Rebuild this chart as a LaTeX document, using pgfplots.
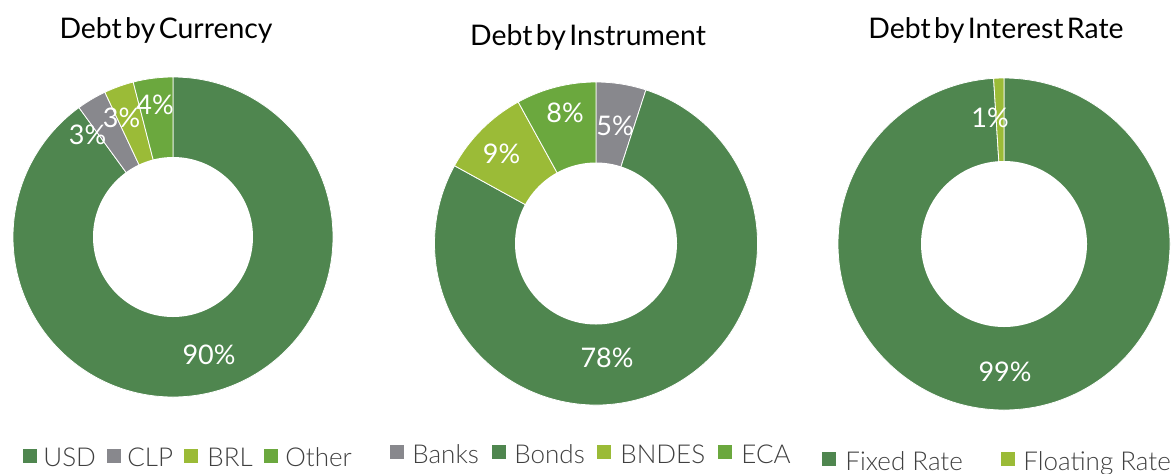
\documentclass[border=0pt]{standalone}
\usepackage{pgfplots}
\pgfplotsset{compat=1.18}
\usepackage{fontspec}
\setmainfont{Lato}
\newfontfamily\latolight{Lato}[UprightFont=* Light]
\definecolor{cDark}{RGB}{79,134,79}
\definecolor{cGrey}{RGB}{136,136,141}
\definecolor{cLight}{RGB}{155,187,55}
\definecolor{cMid}{RGB}{107,168,62}
\definecolor{cLeg}{RGB}{64,64,64}
\newcommand\tw[1]{\begingroup\spaceskip=0.12em\relax #1\endgroup}
% donut: cx, cy (axis units), outer radius, inner radius, list value/colour (clockwise from 12 o'clock)
\newcommand\donut[5]{%
  \gdef\curang{90}%
  \foreach \v/\c in {#5}{%
    \pgfmathsetmacro\endang{\curang-3.6*\v}%
    \fill[\c,draw=white,line width=0.4pt] (axis cs:#1,#2) -- ++(\curang:#3)
      arc[start angle=\curang,end angle=\endang,radius=#3] -- cycle;%
    \xdef\curang{\endang}%
  }%
  \fill[white] (axis cs:#1,#2) circle[radius=#4];%
}
\begin{document}
\begin{tikzpicture}
\begin{axis}[x=0.5pt,y=0.5pt,xmin=0,xmax=1176,ymin=0,ymax=473,hide axis,clip=false]
\path (axis cs:0,0) coordinate (BL) (axis cs:1176,473) coordinate (TR);
\pgfplotsextra{%
  \donut{173}{236}{80pt}{40pt}{90/cDark,3/cGrey,3/cLight,4/cMid}
  \donut{596}{229.5}{80.75pt}{40.5pt}{5/cGrey,78/cDark,9/cLight,8/cMid}
  \donut{1004}{229}{83pt}{41.5pt}{99/cDark,1/cLight}
}
% slice labels
\begin{scope}[every node/.style={text=white,font=\fontsize{13.5}{16}\selectfont,inner sep=0pt}]
\node at (axis cs:209,118) {90\%};
\node at (axis cs:87.5,338) {3\%};
\node at (axis cs:121.5,355) {3\%};
\node at (axis cs:155,368) {4\%};
\node at (axis cs:615,347) {5\%};
\node at (axis cs:565,360.5) {8\%};
\node at (axis cs:501.5,319.5) {9\%};
\node at (axis cs:607,115) {78\%};
\node at (axis cs:990,355.5) {1\%};
\node at (axis cs:1005,101) {99\%};
\end{scope}
% titles
\begin{scope}[every node/.style={text=black,font=\fontsize{14.2}{16}\selectfont,inner sep=0pt,anchor=base}]
\node at (axis cs:166,435) {\tw{Debt by Currency}};
\node at (axis cs:588,428) {\tw{Debt by Instrument}};
\node at (axis cs:996,435) {\tw{Debt by Interest Rate}};
\end{scope}
% legends
\fill[cDark] (axis cs:23,10) rectangle (axis cs:37,24);
\fill[cGrey] (axis cs:107,10) rectangle (axis cs:121,24);
\fill[cLight] (axis cs:184,10) rectangle (axis cs:198,24);
\fill[cMid] (axis cs:264,10) rectangle (axis cs:278,24);
\fill[cGrey] (axis cs:390,14) rectangle (axis cs:404,28);
\fill[cDark] (axis cs:492,14) rectangle (axis cs:506,28);
\fill[cLight] (axis cs:597,14) rectangle (axis cs:611,28);
\fill[cMid] (axis cs:718,14) rectangle (axis cs:732,28);
\fill[cDark] (axis cs:822,7) rectangle (axis cs:836,21);
\fill[cLight] (axis cs:1001,7) rectangle (axis cs:1015,21);
\begin{scope}[every node/.style={text=cLeg,font=\latolight\fontsize{13}{15}\selectfont,inner sep=0pt,anchor=base west}]
\node at (axis cs:43,7) {USD};
\node at (axis cs:127,7) {CLP};
\node at (axis cs:207,7) {BRL};
\node at (axis cs:285,7) {Other};
\node at (axis cs:412,10) {Banks};
\node at (axis cs:514,10) {Bonds};
\node at (axis cs:620,10) {BNDES};
\node at (axis cs:741,10) {ECA};
\node at (axis cs:845,3) {Fixed Rate};
\node at (axis cs:1023,3) {Floating Rate};
\end{scope}
\end{axis}
\pgfresetboundingbox
\useasboundingbox (BL) rectangle (TR);
\end{tikzpicture}
\end{document}
